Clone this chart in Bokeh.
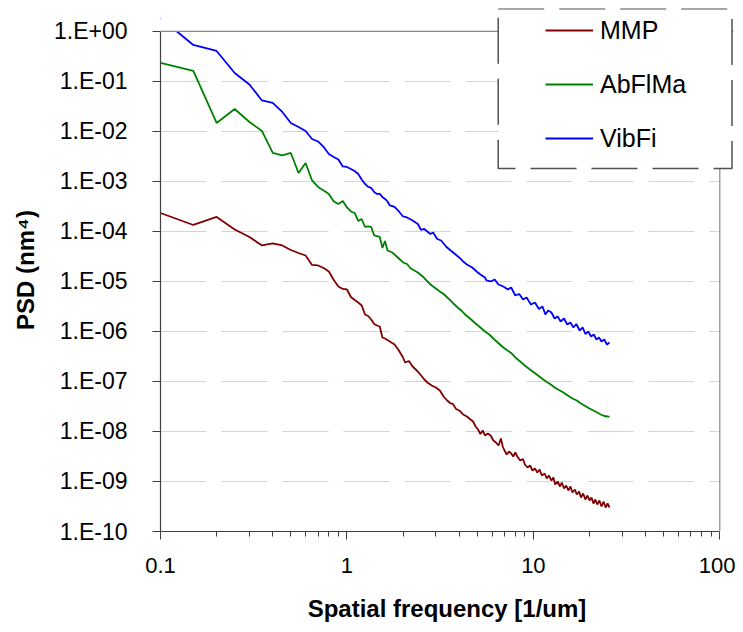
from bokeh.plotting import figure
from bokeh.models import (ColumnDataSource, Range1d, FixedTicker, CustomJSTickFormatter,
                          Legend, LegendItem, BoxAnnotation, Span)
from bokeh.embed import file_html
from bokeh.resources import INLINE

# ---------------- data ----------------
series_names = ["MMP", "AbFlMa", "VibFi"]
series_colors = ["#800000", "#008000", "#0000FF"]

x_ticks = [0.1, 1, 10, 100]
x_tick_labels = ["0.1", "1", "10", "100"]
x_minor = [0.2, 0.3, 0.4, 0.5, 0.6, 0.7, 0.8, 0.9, 2, 3, 4, 5, 6, 7, 8, 9,
           20, 30, 40, 50, 60, 70, 80, 90]
y_ticks = [1e0, 1e-1, 1e-2, 1e-3, 1e-4, 1e-5, 1e-6, 1e-7, 1e-8, 1e-9, 1e-10]
x_min, x_max = 0.1, 100
y_min, y_max = 1e-10, 1.0

mmp_f = [0.1, 0.15, 0.2, 0.25, 0.3, 0.35, 0.4, 0.45, 0.5, 0.55, 0.6, 0.65, 0.7, 0.75,
         0.8, 0.85, 0.9, 0.95, 1.0, 1.05, 1.1, 1.15, 1.2, 1.25, 1.3, 1.35, 1.4, 1.45,
         1.5, 1.55, 1.6, 1.7, 1.8, 1.9, 2.0, 2.05, 2.15, 2.25, 2.4, 2.5, 2.6, 2.7,
         2.85, 3.0, 3.15, 3.3, 3.45, 3.6, 3.7, 3.85, 4.0, 4.2, 4.4, 4.6, 4.75, 4.9,
         5.05, 5.2, 5.35, 5.5, 5.7, 5.9, 6.1, 6.3, 6.5, 6.7, 6.85, 7.0, 7.2, 7.4,
         7.6, 7.8, 8.0, 8.2, 8.5, 8.8, 9.0, 9.3, 9.6, 9.9, 10.2, 10.5, 10.8, 11.1,
         11.5, 11.8, 12.1, 12.5, 12.8, 13.1, 13.5, 13.9, 14.2, 14.6, 15.0, 15.4,
         15.8, 16.2, 16.7, 17.1, 17.6, 18.0, 18.5, 19.0, 19.5, 20.0, 20.5, 21.0,
         21.5, 22.0, 22.6, 23.2, 23.8, 24.4, 25.0, 25.6]
mmp_log_psd = [-3.63, -3.87, -3.71, -3.96, -4.11, -4.28, -4.24, -4.28, -4.37, -4.43,
               -4.48, -4.67, -4.68, -4.73, -4.80, -4.97, -5.10, -5.15, -5.16, -5.31,
               -5.37, -5.42, -5.48, -5.66, -5.69, -5.76, -5.85, -5.88, -5.90, -6.12,
               -6.14, -6.20, -6.26, -6.38, -6.52, -6.62, -6.59, -6.70, -6.80, -6.88,
               -6.96, -7.02, -7.08, -7.12, -7.18, -7.30, -7.38, -7.44, -7.45, -7.55,
               -7.58, -7.66, -7.70, -7.76, -7.80, -7.90, -7.96, -8.05, -7.98, -8.08,
               -8.04, -8.08, -8.18, -8.22, -8.28, -8.14, -8.30, -8.38, -8.46, -8.40,
               -8.44, -8.50, -8.42, -8.50, -8.58, -8.55, -8.66, -8.72, -8.68, -8.78,
               -8.74, -8.82, -8.76, -8.88, -8.84, -8.94, -8.88, -8.98, -8.92, -9.06,
               -9.00, -9.10, -9.02, -9.14, -9.08, -9.18, -9.10, -9.22, -9.16, -9.26,
               -9.20, -9.32, -9.24, -9.36, -9.28, -9.38, -9.32, -9.44, -9.36, -9.46,
               -9.38, -9.50, -9.40, -9.52, -9.44, -9.52]

abflma_f = [0.1, 0.15, 0.2, 0.25, 0.3, 0.35, 0.4, 0.45, 0.5, 0.55, 0.6, 0.65, 0.7,
            0.75, 0.8, 0.85, 0.9, 0.95, 1.0, 1.05, 1.1, 1.15, 1.2, 1.25, 1.3, 1.35,
            1.4, 1.5, 1.55, 1.6, 1.65, 1.75, 1.85, 1.95, 2.0, 2.1, 2.2, 2.3, 2.4,
            2.55, 2.7, 2.85, 3.0, 3.15, 3.3, 3.5, 3.7, 3.9, 4.1, 4.3, 4.6, 4.9, 5.2,
            5.5, 5.8, 6.1, 6.4, 6.8, 7.2, 7.6, 8.0, 8.5, 9.0, 9.5, 10.0, 10.6, 11.2,
            11.8, 12.4, 13.0, 13.7, 14.5, 15.3, 16.2, 17.1, 18.0, 19.0, 20.0, 21.0,
            22.0, 23.0, 24.0, 25.0, 25.6]
abflma_log_psd = [-0.63, -0.79, -1.83, -1.55, -1.81, -1.99, -2.43, -2.48, -2.43, -2.83,
                  -2.63, -2.98, -3.11, -3.18, -3.25, -3.40, -3.45, -3.39, -3.52, -3.60,
                  -3.63, -3.79, -3.75, -3.91, -3.90, -3.91, -4.08, -4.11, -4.33, -4.19,
                  -4.38, -4.42, -4.50, -4.58, -4.62, -4.65, -4.74, -4.78, -4.82, -4.90,
                  -5.00, -5.08, -5.14, -5.20, -5.25, -5.34, -5.43, -5.51, -5.58, -5.66,
                  -5.75, -5.84, -5.92, -6.00, -6.06, -6.14, -6.21, -6.30, -6.37, -6.43,
                  -6.52, -6.60, -6.68, -6.75, -6.81, -6.88, -6.95, -7.01, -7.06, -7.12,
                  -7.17, -7.22, -7.28, -7.34, -7.38, -7.44, -7.49, -7.54, -7.58, -7.62,
                  -7.66, -7.69, -7.70, -7.71]

vibfi_f = [0.1, 0.15, 0.2, 0.25, 0.3, 0.35, 0.4, 0.45, 0.5, 0.55, 0.6, 0.65, 0.7, 0.75,
           0.8, 0.85, 0.9, 0.95, 1.0, 1.05, 1.1, 1.15, 1.2, 1.25, 1.3, 1.35, 1.4, 1.45,
           1.5, 1.55, 1.6, 1.65, 1.7, 1.8, 1.9, 2.0, 2.1, 2.25, 2.4, 2.5, 2.6, 2.8,
           2.9, 3.05, 3.2, 3.4, 3.6, 3.8, 4.0, 4.2, 4.4, 4.7, 5.0, 5.2, 5.5, 5.6, 5.9,
           6.2, 6.5, 6.9, 7.3, 7.6, 8.0, 8.4, 8.8, 9.2, 9.7, 10.2, 10.7, 11.2, 11.6,
           12.0, 12.5, 13.0, 13.5, 14.0, 14.6, 15.2, 15.8, 16.4, 17.0, 17.7, 18.4,
           19.0, 19.7, 20.4, 21.1, 21.8, 22.5, 23.2, 24.0, 24.8, 25.6]
vibfi_log_psd = [0.27, -0.27, -0.39, -0.83, -1.06, -1.38, -1.43, -1.61, -1.83, -1.91,
                 -1.99, -2.15, -2.20, -2.31, -2.45, -2.51, -2.56, -2.70, -2.71, -2.75,
                 -2.79, -2.85, -2.96, -3.05, -3.11, -3.13, -3.21, -3.25, -3.25, -3.31,
                 -3.35, -3.40, -3.48, -3.51, -3.60, -3.70, -3.72, -3.78, -3.85, -3.97,
                 -3.95, -4.05, -4.02, -4.15, -4.18, -4.30, -4.38, -4.45, -4.52, -4.60,
                 -4.66, -4.72, -4.81, -4.86, -4.92, -4.98, -5.00, -4.96, -5.06, -5.10,
                 -5.16, -5.12, -5.28, -5.25, -5.36, -5.32, -5.46, -5.42, -5.55, -5.50,
                 -5.66, -5.58, -5.62, -5.74, -5.70, -5.80, -5.74, -5.86, -5.82, -5.92,
                 -5.85, -5.98, -5.92, -6.05, -6.00, -6.10, -6.06, -6.16, -6.12, -6.20,
                 -6.16, -6.26, -6.22]

series_f = [mmp_f, abflma_f, vibfi_f]
series_log = [mmp_log_psd, abflma_log_psd, vibfi_log_psd]

FONT = "Liberation Sans"

# Frame is enlarged past the plot area (top/right) so the legend box,
# which sticks out of the plot area, is not clipped.
# Plot area: x 160..719 px, y 31..532 px; frame: x 160..733, y 8..532.
px_per_dec_x = (719.3 - 160) / 3.0
px_per_dec_y = (532 - 31) / 10.0
frame_x_end = x_min * 10 ** ((733 - 160) / px_per_dec_x)
frame_y_end = y_max * 10 ** ((31 - 8) / px_per_dec_y)

p = figure(width=735, height=624, x_axis_type="log", y_axis_type="log",
           x_range=Range1d(x_min, frame_x_end), y_range=Range1d(y_min, frame_y_end),
           output_backend="svg", toolbar_location=None,
           min_border_left=160, min_border_right=2, min_border_top=8,
           min_border_bottom=92)
p.background_fill_color = "white"
p.border_fill_color = "white"
p.outline_line_color = None

# grid
p.xgrid.visible = False
p.ygrid.grid_line_color = "#d4d4d4"
p.ygrid.grid_line_dash = "46 15"
p.ygrid.grid_line_width = 1.2

# axes
p.xaxis.ticker = FixedTicker(ticks=x_ticks, minor_ticks=x_minor)
p.xaxis.formatter = CustomJSTickFormatter(
    args=dict(vals=x_ticks, labs=x_tick_labels),
    code="""
    for (let i = 0; i < vals.length; i++) {
        if (Math.abs(Math.log10(tick) - Math.log10(vals[i])) < 1e-6) return labs[i];
    }
    return '';
""")
p.yaxis.ticker = FixedTicker(ticks=y_ticks, minor_ticks=[])
p.yaxis.formatter = CustomJSTickFormatter(code="""
    const e = Math.round(Math.log10(tick));
    const a = Math.abs(e);
    return '1.E' + (e < 0 ? '-' : '+') + (a < 10 ? '0' : '') + a;
""")
p.xaxis.bounds = (x_min, x_max)
p.yaxis.bounds = (y_min, y_max)

for ax in (p.xaxis[0], p.yaxis[0]):
    ax.axis_line_color = "#404040"
    ax.axis_line_width = 1.2
    ax.major_tick_line_color = "#404040"
    ax.minor_tick_line_color = "#404040"
    ax.major_tick_out = 8
    ax.major_tick_in = 0
    ax.minor_tick_in = 0
    ax.major_label_text_font = FONT
    ax.major_label_text_color = "black"
    ax.axis_label_text_font = FONT
    ax.axis_label_text_font_size = "24px"
    ax.axis_label_text_font_style = "bold"
    ax.axis_label_text_color = "black"

p.xaxis.major_label_text_font_size = "22px"
p.yaxis.major_label_text_font_size = "23px"
p.xaxis.minor_tick_out = 5
p.yaxis.minor_tick_out = 0
p.xaxis.major_label_standoff = 18
p.yaxis.major_label_standoff = 25
p.xaxis.axis_label = "Spatial frequency [1/um]"
p.yaxis.axis_label = "PSD (nm\u2074)"
p.xaxis.axis_label_standoff = 19
p.yaxis.axis_label_standoff = 12

renderers = []
for name, color, fs, ls in zip(series_names, series_colors, series_f, series_log):
    src = ColumnDataSource(dict(f=fs, psd=[10 ** v for v in ls]))
    r = p.line("f", "psd", source=src, line_color=color, line_width=1.8)
    renderers.append((name, r))

# mask everything outside the plot area (above y_max, right of x_max)
p.add_layout(BoxAnnotation(bottom=y_max, fill_color="white", fill_alpha=1.0,
                           line_alpha=0))
p.add_layout(BoxAnnotation(left=x_max, fill_color="white", fill_alpha=1.0,
                           line_alpha=0))
# plot-area border (top and right)
p.add_layout(Span(location=y_max, dimension="width", line_color="#888888",
                  line_width=1.2))
p.add_layout(Span(location=x_max, dimension="height", line_color="#888888",
                  line_width=1.2))

# dashed legend box (screen units, relative to frame bottom-left)
box = BoxAnnotation(left=337.7, right=571.5, top=522.7, bottom=363,
                    left_units="screen", right_units="screen",
                    top_units="screen", bottom_units="screen",
                    fill_color="white", fill_alpha=1.0,
                    line_color="#505050", line_alpha=1.0, line_width=1.5,
                    line_dash="46 15")
p.add_layout(box)

legend = Legend(items=[LegendItem(label=n, renderers=[r]) for n, r in renderers],
                location=(385, 378.5), padding=0, margin=0, spacing=25,
                glyph_width=48, glyph_height=26, label_height=26, label_standoff=7,
                label_text_font=FONT, label_text_font_size="25px",
                label_text_color="black",
                background_fill_alpha=0.0, border_line_alpha=0.0)
p.add_layout(legend)

open("out.html", "w").write(file_html(p, INLINE))
